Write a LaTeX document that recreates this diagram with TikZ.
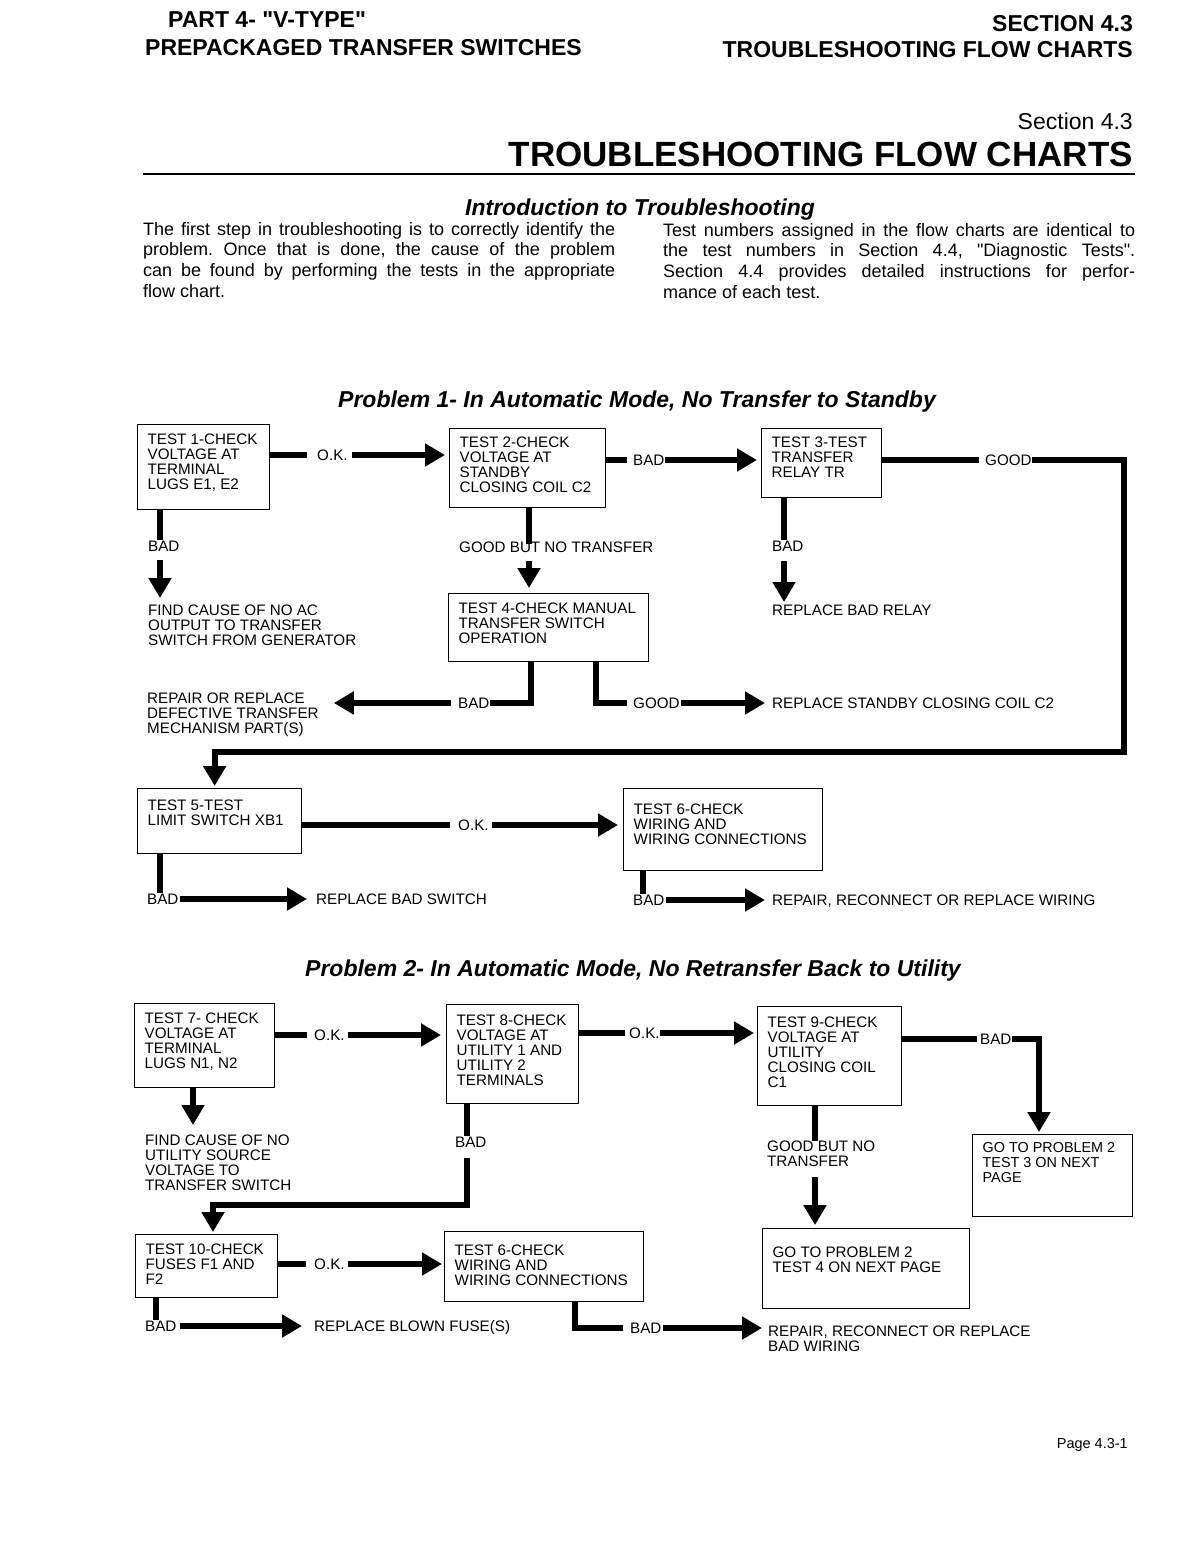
\documentclass[tikz,border=0pt]{standalone}
\usepackage{fontspec}
\setmainfont{Liberation Sans}
\usetikzlibrary{arrows.meta,calc}
\font\hdrquote="Liberation Sans/B" at 23pt
\font\txtquote="Liberation Sans" at 18pt
\frenchspacing
\newcommand{\tbox}[4]{\parbox[c][#2pt][t]{#1pt}{\raggedright\leftskip=10pt\relax\vspace*{#3pt}#4}}
\begin{document}
\begin{tikzpicture}[x=1pt,y=-1pt]
    \tikzstyle{every node}+=[inner sep=0pt, font=\fontsize{15.2}{15}\selectfont]
    \tikzstyle{testbox}=[draw, line width=1.3pt, anchor=north west]
    \tikzstyle{lbl}=[anchor=west, text height=10.9pt, text depth=0pt]
    \tikzstyle{note}=[anchor=north west, align=left]
    \tikzstyle{conn}=[line width=6pt, line join=miter]
    \tikzstyle{arr}=[-{Triangle[width=22pt,length=20pt]}]
    \tikzstyle{hdr}=[font=\fontsize{23}{23}\selectfont\bfseries]
    \tikzstyle{ptitle}=[anchor=base west, font=\fontsize{23}{23}\selectfont\bfseries\itshape]
    \fill[white] (0,0) rectangle (1187,1544);
    % page head
    \node[hdr, anchor=base west] (part) at (168,28) {PART 4- {\hdrquote"}V-TYPE{\hdrquote"}};
    \node[hdr, anchor=base west] (prep) at (145,56) {PREPACKAGED TRANSFER SWITCHES};
    \node[hdr, anchor=base east] (sec) at (1133,32) {SECTION 4.3};
    \node[hdr, anchor=base east] (tfc) at (1133,58) {TROUBLESHOOTING FLOW CHARTS};
    \node[anchor=base east, font=\fontsize{23}{23}\selectfont] (sect) at (1133,130) {Section 4.3};
    \node[anchor=base east, font=\fontsize{35}{35}\selectfont\bfseries] (title) at (1133,166) {TROUBLESHOOTING FLOW CHARTS};
    \draw[line width=2pt] (143,174) -- (1135,174);
    \node[anchor=base, font=\fontsize{23}{23}\selectfont\bfseries\itshape] (intro) at (640,215) {Introduction to Troubleshooting};
    \node[anchor=north west, align=left, font=\fontsize{18}{20.7}\selectfont] (parl) at (143,222) {\makebox[472pt][s]{The first step in troubleshooting is to correctly identify the}\\
        \makebox[472pt][s]{problem. Once that is done, the cause of the problem}\\
        \makebox[472pt][s]{can be found by performing the tests in the appropriate}\\
        flow chart.};
    \node[anchor=north west, align=left, font=\fontsize{18}{20.7}\selectfont] (parr) at (663,223) {\makebox[472pt][s]{Test numbers assigned in the flow charts are identical to}\\
        \makebox[472pt][s]{the test numbers in Section 4.4, {\txtquote"}Diagnostic Tests{\txtquote"}.}\\
        \makebox[472pt][s]{Section 4.4 provides detailed instructions for perfor-}\\
        mance of each test.};
    % problem 1
    \node[ptitle] (prob1) at (338,407) {Problem 1- In Automatic Mode, No Transfer to Standby};
    \node[testbox] (t1) at (137,424) {\tbox{132}{85}{9}{TEST 1-CHECK\\VOLTAGE AT\\TERMINAL\\LUGS E1, E2}};
    \node[testbox] (t2) at (449,428) {\tbox{156}{79}{8}{TEST 2-CHECK\\VOLTAGE AT\\STANDBY\\CLOSING COIL C2}};
    \node[testbox] (t3) at (761,428) {\tbox{120}{69}{8}{TEST 3-TEST\\TRANSFER\\RELAY TR}};
    \node[testbox] (t4) at (448,593) {\tbox{200}{68}{9}{TEST 4-CHECK MANUAL\\TRANSFER SWITCH\\OPERATION}};
    \node[testbox] (t5) at (137,788) {\tbox{164}{65}{11}{TEST 5-TEST\\LIMIT SWITCH XB1}};
    \node[testbox] (t6) at (623,788) {\tbox{199}{82}{15}{TEST 6-CHECK\\WIRING AND\\WIRING CONNECTIONS}};
    \node[lbl] (ok1) at (317,455) {O.K.};
    \draw[conn, shorten >=10pt] (t1.east |- ok1) -- (ok1.west);
    \draw[conn, arr, shorten <=4pt, shorten >=4pt] (ok1.east) -- (t2.west |- ok1);
    \node[lbl] (bad2) at (633,460) {BAD};
    \draw[conn, shorten >=6pt] (t2.east |- bad2) -- (bad2.west);
    \draw[conn, arr, shorten >=4pt] (bad2.east) -- (t3.west |- bad2);
    \node[lbl] (good3) at (985,460) {GOOD};
    \draw[conn, shorten >=6pt] (t3.east |- good3) -- (good3.west);
    \coordinate (loop) at (1124,752);
    \draw[conn, arr, shorten >=2pt] (good3.east) -| (loop) -| ([xshift=-5pt]t5.north);
    \coordinate (t1b) at ($(t1.south west)+(23,0)$);
    \node[lbl] (bad1) at (148,546) {BAD};
    \node[note] (find1) at (148,605) {FIND CAUSE OF NO AC\\OUTPUT TO TRANSFER\\SWITCH FROM GENERATOR};
    \draw[conn] (t1b) -- (t1b |- bad1.north);
    \draw[conn, arr, shorten <=8pt, shorten >=7pt] (t1b |- bad1.south) -- (t1b |- find1.north);
    \coordinate (t2b) at ($(t2.south west)+(80,0)$);
    \node[lbl] (gbnt) at (459,547) {GOOD BUT NO TRANSFER};
    \draw[conn, shorten >=-3pt] (t2b) -- (t2b |- gbnt.north);
    \draw[conn, arr, shorten <=8pt, shorten >=5pt] (t2b |- gbnt.south) -- (t2b |- t4.north);
    \coordinate (t3b) at ($(t3.south west)+(23,0)$);
    \node[lbl] (bad3) at (772,546) {BAD};
    \node[note] (relay) at (772,605) {REPLACE BAD RELAY};
    \draw[conn] (t3b) -- (t3b |- bad3.north);
    \draw[conn, arr, shorten <=9pt, shorten >=3pt] (t3b |- bad3.south) -- (t3b |- relay.north);
    \coordinate (t4l) at ($(t4.south west)+(83,0)$);
    \coordinate (t4r) at ($(t4.south west)+(148,0)$);
    \node[lbl] (bad4) at (458,703) {BAD};
    \node[lbl] (good4) at (633,703) {GOOD};
    \node[note] (mech) at (147,693) {REPAIR OR REPLACE\\DEFECTIVE TRANSFER\\MECHANISM PART(S)};
    \node[lbl] (coil) at (772,703) {REPLACE STANDBY CLOSING COIL C2};
    \draw[conn] (t4l) |- (bad4.east);
    \draw[conn, arr, shorten <=7pt, shorten >=15pt] (bad4.west) -- (mech.east |- bad4);
    \draw[conn, shorten >=6pt] (t4r) |- (good4.west);
    \draw[conn, arr, shorten <=1pt, shorten >=7pt] (good4.east) -- (coil.west);
    \node[lbl] (ok5) at (458,825) {O.K.};
    \draw[conn, shorten >=8pt] (t5.east |- ok5) -- (ok5.west);
    \draw[conn, arr, shorten <=3pt, shorten >=5pt] (ok5.east) -- (t6.west |- ok5);
    \coordinate (t5b) at ($(t5.south west)+(23,0)$);
    \node[lbl] (bad5) at (147,899) {BAD};
    \node[lbl] (switch) at (316,899) {REPLACE BAD SWITCH};
    \draw[conn] (t5b) -- (t5b |- bad5.north);
    \draw[conn, arr, shorten <=1pt, shorten >=9pt] (bad5.east) -- (switch.west);
    \coordinate (t6b) at ($(t6.south west)+(20,0)$);
    \node[lbl] (bad6) at (633,900) {BAD};
    \node[lbl] (wiring) at (772,900) {REPAIR, RECONNECT OR REPLACE WIRING};
    \draw[conn] (t6b) -- (t6b |- bad6.north);
    \draw[conn, arr, shorten <=1pt, shorten >=7pt] (bad6.east) -- (wiring.west |- bad6);
    % problem 2
    \node[ptitle] (prob2) at (305,976) {Problem 2- In Automatic Mode, No Retransfer Back to Utility};
    \node[testbox] (t7) at (134,1003) {\tbox{140}{84}{9}{TEST 7- CHECK\\VOLTAGE AT\\TERMINAL\\LUGS N1, N2}};
    \node[testbox] (t8) at (446,1004) {\tbox{132}{99}{10}{TEST 8-CHECK\\VOLTAGE AT\\UTILITY 1 AND\\UTILITY 2\\TERMINALS}};
    \node[testbox] (t9) at (757,1006) {\tbox{144}{99}{10}{TEST 9-CHECK\\VOLTAGE AT\\UTILITY\\CLOSING COIL\\C1}};
    \node[testbox] (t11) at (972,1134) {\tbox{160}{82}{8}{\fontsize{14.4}{15}\selectfont GO TO PROBLEM 2\\TEST 3 ON NEXT\\PAGE}};
    \node[testbox] (t10) at (135,1234) {\tbox{142}{63}{9}{TEST 10-CHECK\\FUSES F1 AND\\F2}};
    \node[testbox] (t6c) at (444,1231) {\tbox{199}{70}{13}{TEST 6-CHECK\\WIRING AND\\WIRING CONNECTIONS}};
    \node[testbox] (t12) at (762,1228) {\tbox{207}{80}{18}{GO TO PROBLEM 2\\TEST 4 ON NEXT PAGE}};
    \node[lbl] (ok7) at (314,1035) {O.K.};
    \draw[conn, shorten >=7pt] (t7.east |- ok7) -- (ok7.west);
    \draw[conn, arr, shorten <=3pt, shorten >=5pt] (ok7.east) -- (t8.west |- ok7);
    \coordinate (t7b) at ($(t7.south west)+(59,0)$);
    \node[note] (find2) at (145,1135) {FIND CAUSE OF NO\\UTILITY SOURCE\\VOLTAGE TO\\TRANSFER SWITCH};
    \draw[conn, arr, shorten >=10pt] (t7b) -- (t7b |- find2.north);
    \node[lbl] (ok8) at (629,1033) {O.K.};
    \draw[conn, shorten >=4pt] (t8.east |- ok8) -- (ok8.west);
    \draw[conn, arr, shorten >=3pt] (ok8.east) -- (t9.west |- ok8);
    \coordinate (t8b) at ($(t8.south west)+(21,0)$);
    \node[lbl] (bad8) at (455,1142) {BAD};
    \coordinate (back) at (213,1205);
    \draw[conn] (t8b) -- (t8b |- bad8.north);
    \draw[conn, arr, shorten <=10pt, shorten >=2pt] (t8b |- bad8.south) |- (back) -- (back |- t10.north);
    \node[lbl] (bad9) at (980,1039) {BAD};
    \draw[conn, shorten >=3pt] (t9.east |- bad9) -- (bad9.west);
    \coordinate (t11t) at ($(t11.north west)+(67,0)$);
    \draw[conn, arr, shorten >=2pt] (bad9.east) -| (t11t);
    \coordinate (t9b) at ($(t9.south west)+(58,0)$);
    \node[note] (gbnt2) at (767,1141) {GOOD BUT NO\\TRANSFER};
    \draw[conn] (t9b) -- (t9b |- gbnt2.north);
    \draw[conn, arr, shorten <=10pt, shorten >=3pt] (t9b |- gbnt2.south) -- (t9b |- t12.north);
    \node[lbl] (ok10) at (314,1264) {O.K.};
    \draw[conn, shorten >=8pt] (t10.east |- ok10) -- (ok10.west);
    \draw[conn, arr, shorten <=3pt, shorten >=2pt] (ok10.east) -- (t6c.west |- ok10);
    \coordinate (t10b) at ($(t10.south west)+(21,0)$);
    \node[lbl] (bad10) at (145,1326) {BAD};
    \node[lbl] (fuse) at (314,1326) {REPLACE BLOWN FUSE(S)};
    \draw[conn] (t10b) -- (t10b |- bad10.north);
    \draw[conn, arr, shorten <=3pt, shorten >=12pt] (bad10.east) -- (fuse.west);
    \coordinate (t6cb) at ($(t6c.south west)+(131,0)$);
    \node[lbl] (bad6c) at (630,1328) {BAD};
    \node[note] (rewire) at (768,1326) {REPAIR, RECONNECT OR REPLACE\\BAD WIRING};
    \draw[conn, shorten >=7pt] (t6cb) |- (bad6c.west);
    \draw[conn, arr, shorten <=1pt, shorten >=6pt] (bad6c.east) -- (rewire.west |- bad6c);
    \node[anchor=base east, font=\fontsize{14.5}{15}\selectfont] (page) at (1128,1448) {Page 4.3-1};
\end{tikzpicture}
\end{document}
